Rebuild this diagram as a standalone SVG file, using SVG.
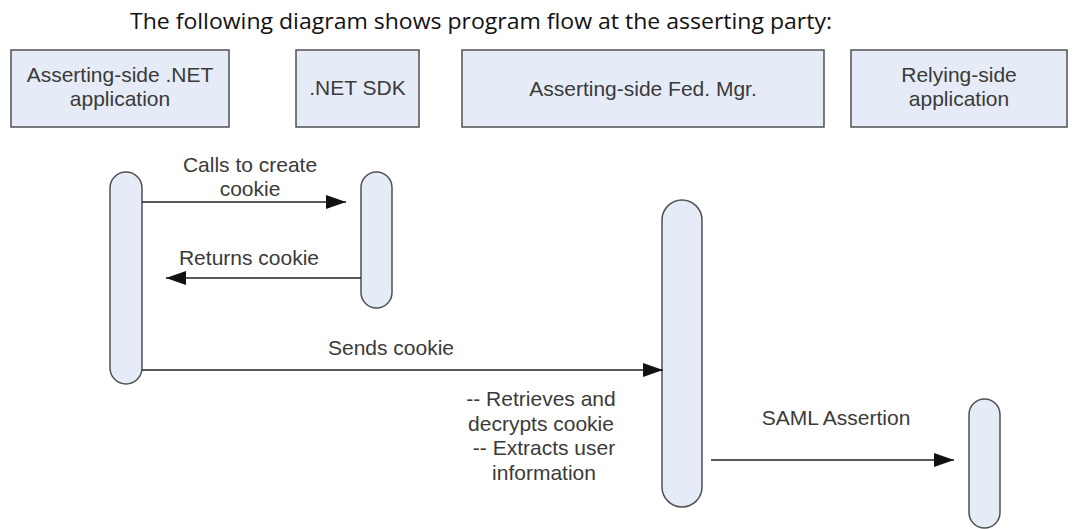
<svg xmlns="http://www.w3.org/2000/svg" width="1089" height="529" viewBox="0 0 1089 529">
<style>
.box{fill:#e6ecf7;stroke:#505050;stroke-width:1.5}
.life{fill:#e6ecf7;stroke:#505050;stroke-width:1.5}
.lbl{font-family:"Liberation Sans",Arial,sans-serif;font-size:21px;fill:#3a3a3a;text-anchor:middle}
.title{font-family:"Open Sans","Noto Sans",sans-serif;font-size:22px;fill:#111}
.msg{stroke:#222;stroke-width:1.5;fill:none;marker-end:url(#ah)}
</style>
<defs>
<marker id="ah" markerUnits="userSpaceOnUse" markerWidth="22" markerHeight="16" refX="20" refY="7" orient="auto">
<path d="M0,0 L20,7 L0,14 z" fill="#111"/>
</marker>
</defs>
<rect width="1089" height="529" fill="#fff"/>
<text class="title" x="130" y="29" textLength="702" lengthAdjust="spacingAndGlyphs">The following diagram shows program flow at the asserting party:</text>
<g id="app">
<rect class="box" x="11" y="50" width="218" height="77"/>
<text class="lbl" x="120" y="82">Asserting-side .NET</text>
<text class="lbl" x="120" y="106">application</text>
<rect class="life" x="110" y="172" width="32" height="212" rx="16"/>
</g>
<g id="sdk">
<rect class="box" x="296" y="50" width="123" height="77"/>
<text class="lbl" x="357.5" y="95">.NET SDK</text>
<rect class="life" x="361" y="172" width="31" height="136" rx="15.5"/>
</g>
<g id="fedmgr">
<rect class="box" x="462" y="50" width="362" height="77"/>
<text class="lbl" x="643" y="96">Asserting-side Fed. Mgr.</text>
<rect class="life" x="662" y="200" width="40" height="307" rx="20"/>
</g>
<g id="relying">
<rect class="box" x="851" y="50" width="216" height="77"/>
<text class="lbl" x="959" y="82">Relying-side</text>
<text class="lbl" x="959" y="106">application</text>
<rect class="life" x="969" y="399" width="31" height="129" rx="15.5"/>
</g>
<g id="connectors">
<line class="msg" x1="142" y1="202" x2="346" y2="202"/>
<text class="lbl" x="250" y="172">Calls to create</text>
<text class="lbl" x="250" y="196">cookie</text>
<line class="msg" x1="361" y1="278" x2="166" y2="278"/>
<text class="lbl" x="249" y="265">Returns cookie</text>
<line class="msg" x1="142" y1="370" x2="663" y2="370"/>
<text class="lbl" x="391" y="355">Sends cookie</text>
<line class="msg" x1="711" y1="460" x2="954" y2="460"/>
<text class="lbl" x="836" y="425">SAML Assertion</text>
</g>
<g id="note">
<text class="lbl" x="541" y="406">-- Retrieves and</text>
<text class="lbl" x="541" y="431">decrypts cookie</text>
<text class="lbl" x="544" y="455">-- Extracts user</text>
<text class="lbl" x="544" y="480">information</text>
</g>
</svg>
